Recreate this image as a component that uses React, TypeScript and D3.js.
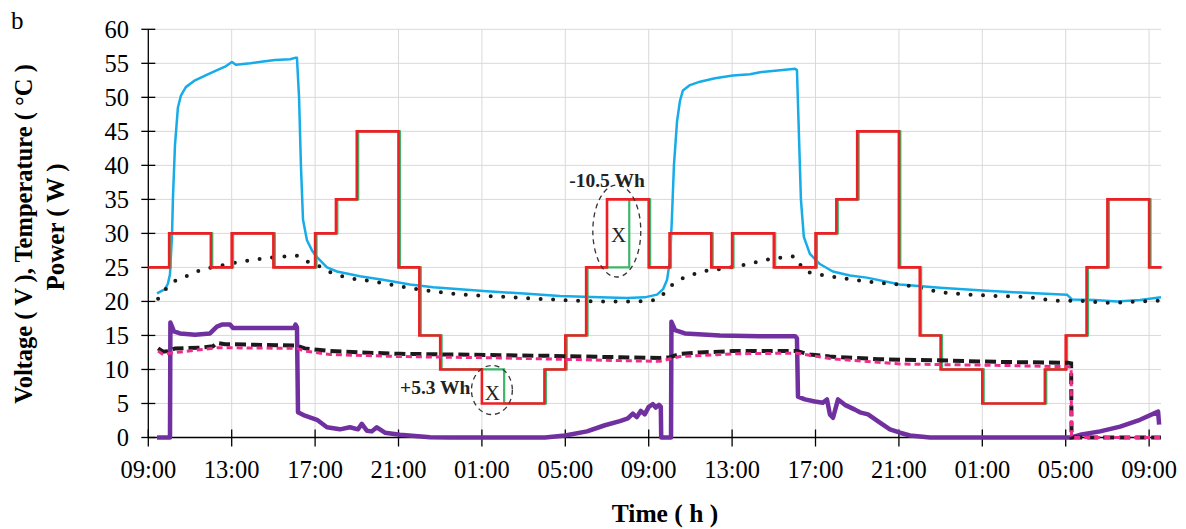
import { useEffect, useRef } from 'react';
import * as d3 from 'd3';

type Pt = [number, number];

// hours since 09:00 on day 1
const xTickHours = [0, 4, 8, 12, 16, 20, 24, 28, 32, 36, 40, 44, 48];
const xTickLabels = ['09:00', '13:00', '17:00', '21:00', '01:00', '05:00', '09:00', '13:00', '17:00', '21:00', '01:00', '05:00', '09:00'];
const yTicks = [0, 5, 10, 15, 20, 25, 30, 35, 40, 45, 50, 55, 60];

// load power setpoint (red) and measured load power (green)
const setTimes = [0, 1, 3, 4, 6, 8, 9, 10, 12, 13, 14, 16, 19, 20, 21, 22, 24, 25, 27, 28, 30, 32, 33, 34, 36, 37, 38, 40, 43, 44, 45, 46, 48, 48.57];
const setValues = [25, 30, 25, 30, 25, 30, 35, 45, 25, 15, 10, 5, 10, 15, 25, 35, 25, 30, 25, 30, 25, 30, 35, 45, 25, 15, 10, 5, 10, 15, 25, 35, 25, 25];
const loadTimes = [0, 1, 3, 4, 6, 8, 9, 10, 12, 13, 14, 17, 19, 20, 21, 23, 24, 25, 27, 28, 30, 32, 33, 34, 36, 37, 38, 40, 43, 44, 45, 46, 48, 48.57];
const loadValues = [25, 30, 25, 30, 25, 30, 35, 45, 25, 15, 10, 5, 10, 15, 25, 35, 25, 30, 25, 30, 25, 30, 35, 45, 25, 15, 10, 5, 10, 15, 25, 35, 25, 25];

// panel temperature (cyan)
const panelTemp: Pt[] = [
  [0.42, 21.2], [0.8, 21.8], [0.94, 22.6], [1.04, 24], [1.14, 30], [1.18, 35], [1.28, 43], [1.42, 48.5],
  [1.57, 50.3], [1.8, 51.5], [2.24, 52.5], [2.8, 53.3], [3.3, 54], [3.68, 54.5], [4.01, 55.2], [4.2, 54.8],
  [4.9, 55], [5.6, 55.3], [6.08, 55.5], [6.8, 55.6], [7.04, 55.8], [7.13, 55.8], [7.23, 50], [7.32, 40],
  [7.42, 32], [7.61, 29], [7.85, 27.5], [8.09, 26.5], [8.57, 25], [9.05, 24.4], [10.15, 23.7], [11.25, 23.2],
  [12.55, 22.5], [13.66, 22.1], [14.95, 21.8], [16.24, 21.5], [17.83, 21.2], [19.74, 20.8], [21.66, 20.6],
  [22.96, 20.5], [23.8, 20.6], [24.4, 21], [24.69, 21.8], [24.88, 23.2], [25.02, 26], [25.11, 32], [25.21, 40],
  [25.36, 46.5], [25.5, 49.5], [25.64, 51], [25.98, 51.8], [26.46, 52.3], [27.18, 52.8], [28.04, 53.2],
  [28.86, 53.4], [29.34, 53.7], [30.06, 53.9], [31.02, 54.2], [31.11, 54], [31.2, 45], [31.3, 35], [31.44, 29.5],
  [31.73, 27], [32.21, 25.5], [32.83, 24.4], [33.65, 23.8], [34.46, 23.5], [36.05, 22.5], [37.97, 22],
  [40.03, 21.6], [41.8, 21.3], [44.06, 21], [44.3, 20.3], [45.4, 20.2], [46.45, 20], [47.56, 20.2], [48.57, 20.6],
];

// ambient temperature (black dotted)
const ambientTemp: Pt[] = [
  [0.47, 20.4], [0.7, 21.3], [1.04, 22.5], [1.67, 23.5], [2.34, 24.4], [3.68, 25.4], [5.02, 26.1], [6.46, 26.6],
  [7.13, 26.7], [7.51, 26], [7.99, 25.5], [8.71, 24.3], [9.43, 23.6], [10.87, 22.9], [12.31, 22.1], [13.85, 21.4],
  [15.19, 21], [16.87, 20.7], [19.27, 20.3], [21.66, 20], [23.1, 20], [23.96, 20.1], [24.39, 20.3], [24.77, 21.3],
  [25.11, 22.4], [25.5, 23.2], [26.07, 23.9], [26.6, 24.4], [27.27, 24.7], [28.62, 25.4], [29.82, 26.2],
  [31.02, 26.6], [31.25, 25.5], [31.49, 24.5], [32.69, 23.7], [34.61, 22.9], [36.67, 22.2], [37.97, 21.4],
  [40.03, 20.9], [42.29, 20.6], [43.73, 20.1], [44.45, 20.1], [46.12, 19.8], [47.56, 20], [48.52, 20.1],
];

// battery voltage (black dashed)
const batteryVoltage: Pt[] = [
  [0.47, 13.1], [0.71, 12.6], [0.95, 12.7], [1.28, 13.1], [2.48, 13.2], [3.1, 13.4], [3.29, 13.9], [3.68, 13.7],
  [4.06, 13.7], [7.13, 13.5], [7.51, 13.1], [8.71, 12.7], [10.15, 12.5], [12.07, 12.3], [14.47, 12.2],
  [16.87, 12.1], [19.27, 12], [22.62, 11.8], [24.54, 11.7], [25.02, 11.8], [25.5, 12.3], [26.46, 12.5],
  [28.04, 12.7], [31.11, 12.7], [31.73, 12.2], [32.69, 11.9], [35.09, 11.5], [38.45, 11.3], [40.85, 11.1],
  [43.73, 11], [44.11, 11], [44.26, 10.9], [44.28, 0], [48.57, 0],
];

// load voltage (pink dashed)
const loadVoltage: Pt[] = [
  [0.47, 12.7], [0.71, 12.2], [1.04, 12.4], [2.48, 12.9], [3.29, 13.2], [7.13, 13.1], [7.51, 12.7], [8.71, 12.2],
  [12.07, 11.9], [16.87, 11.7], [22.62, 11.3], [24.54, 11.2], [25.5, 11.9], [28.04, 12.3], [31.11, 12.4],
  [32.69, 11.6], [36.05, 10.8], [40.85, 10.6], [44.06, 10.4], [44.26, 10.4], [44.28, 0], [48.57, 0],
];

// PV power (purple)
const pvPower: Pt[] = [
  [0.42, 0], [1.04, 0], [1.06, 16.9], [1.23, 15.6], [1.52, 15.3], [2.24, 15.1], [2.96, 15.3], [3.29, 16.3],
  [3.53, 16.6], [3.92, 16.6], [4.06, 16.1], [5.36, 16.1], [6.99, 16.1], [7.06, 16.6], [7.13, 16.2], [7.18, 3.7],
  [7.51, 3.2], [8.09, 2.6], [8.57, 1.5], [9.19, 1.2], [9.67, 1.5], [10.06, 1.2], [10.24, 2], [10.48, 1],
  [10.72, 0.9], [10.96, 1.5], [11.35, 0.7], [12.07, 0.4], [13.51, 0.05], [14.47, 0], [19.03, 0], [19.99, 0.3],
  [21.04, 0.9], [21.9, 1.8], [22.62, 2.4], [23, 2.8], [23.24, 3.5], [23.43, 3], [23.62, 3.9], [23.81, 3.4],
  [24, 4.5], [24.2, 4.9], [24.34, 4.4], [24.49, 4.8], [24.58, 4.5], [24.6, 0], [25.07, 0], [25.09, 17],
  [25.26, 15.8], [25.74, 15.3], [27.42, 15], [29.34, 14.9], [31.02, 14.9], [31.11, 14.6], [31.16, 6],
  [31.49, 5.6], [31.97, 5.3], [32.35, 5.1], [32.55, 5.6], [32.69, 3.4], [32.84, 2.9], [33.08, 5.6],
  [33.41, 4.8], [33.89, 4.1], [34.13, 3.7], [34.52, 3.4], [35.09, 2.2], [35.57, 1.2], [36.05, 0.7],
  [36.53, 0.3], [37.49, 0], [44.26, 0], [44.69, 0.4], [45.65, 0.9], [46.61, 1.6], [47.56, 2.6], [48.43, 3.8],
  [48.48, 1.9],
];

// energy-difference annotations
const notes = [
  { label: '+5.3 Wh', t: 15.45, v: 7.3, anchor: 'end', cx: 16.48, cy: 6.98, rx: 0.98, ry: 3.6, xt: 16.5, xv: 6.6 },
  { label: '-10.5 Wh', t: 22.0, v: 37.8, anchor: 'middle', cx: 22.47, cy: 30.35, rx: 1.15, ry: 6.76, xt: 22.55, xv: 29.8 },
];

const FONT = '"Liberation Serif", "Times New Roman", serif';

export default function App() {
  const svgRef = useRef<SVGSVGElement>(null);

  useEffect(() => {
    if (!svgRef.current) return;
    const width = 1186;
    const height = 529;

    const svg = d3.select(svgRef.current);
    svg.selectAll('*').remove();
    svg.attr('width', width).attr('height', height);

    const x = d3.scaleLinear().domain([0, 48.57]).range([148.3, 1161]);
    const y = d3.scaleLinear().domain([0, 60]).range([437.5, 29.3]);
    const [x0, x1] = x.range();

    // grid
    svg.append('g')
      .selectAll('line')
      .data(yTicks.slice(1))
      .join('line')
      .attr('x1', x0).attr('x2', x1)
      .attr('y1', (d) => y(d)).attr('y2', (d) => y(d))
      .attr('stroke', '#d9d9d9').attr('stroke-width', 1);
    svg.append('g')
      .selectAll('line')
      .data(xTickHours.slice(1))
      .join('line')
      .attr('x1', (d) => x(d)).attr('x2', (d) => x(d))
      .attr('y1', y(0)).attr('y2', y(60))
      .attr('stroke', '#d9d9d9').attr('stroke-width', 1);

    // axes
    svg.append('line').attr('x1', x0).attr('x2', x1).attr('y1', y(0)).attr('y2', y(0)).attr('stroke', '#000').attr('stroke-width', 1.3);
    svg.append('line').attr('x1', x0).attr('x2', x0).attr('y1', y(0)).attr('y2', y(60)).attr('stroke', '#000').attr('stroke-width', 1.3);

    svg.append('g')
      .selectAll('line')
      .data(yTicks)
      .join('line')
      .attr('x1', x0 - 7).attr('x2', x0 + 7)
      .attr('y1', (d) => y(d)).attr('y2', (d) => y(d))
      .attr('stroke', '#000').attr('stroke-width', 1.3);
    svg.append('g')
      .selectAll('text')
      .data(yTicks)
      .join('text')
      .attr('x', 129)
      .attr('y', (d) => y(d))
      .attr('dy', '0.34em')
      .attr('text-anchor', 'end')
      .style('font-family', FONT)
      .style('font-size', '24.5px')
      .text((d) => d);

    svg.append('g')
      .selectAll('line')
      .data(xTickHours)
      .join('line')
      .attr('x1', (d) => x(d)).attr('x2', (d) => x(d))
      .attr('y1', y(0) - 8).attr('y2', y(0) + 9)
      .attr('stroke', '#000').attr('stroke-width', 1.3);
    svg.append('g')
      .selectAll('text')
      .data(xTickHours)
      .join('text')
      .attr('x', (d) => x(d))
      .attr('y', 478)
      .attr('text-anchor', 'middle')
      .style('font-family', FONT)
      .style('font-size', '24.5px')
      .text((d, i) => xTickLabels[i]);

    // axis titles
    svg.append('text')
      .attr('transform', `translate(32,234) rotate(-90)`)
      .attr('text-anchor', 'middle')
      .style('font-family', FONT)
      .style('font-size', '24.5px')
      .style('font-weight', 'bold')
      .text('Voltage ( V ), Temperature ( °C )');
    svg.append('text')
      .attr('transform', `translate(64,227) rotate(-90)`)
      .attr('text-anchor', 'middle')
      .style('font-family', FONT)
      .style('font-size', '25px')
      .style('font-weight', 'bold')
      .text('Power ( W )');
    svg.append('text')
      .attr('x', 665)
      .attr('y', 522)
      .attr('text-anchor', 'middle')
      .style('font-family', FONT)
      .style('font-size', '25.5px')
      .style('font-weight', 'bold')
      .text('Time ( h )');
    svg.append('text')
      .attr('x', 11)
      .attr('y', 29)
      .style('font-family', FONT)
      .style('font-size', '25px')
      .text('b');

    const line = d3.line<Pt>().x((d) => x(d[0])).y((d) => y(d[1]));
    const step = d3.line<Pt>().x((d) => x(d[0])).y((d) => y(d[1])).curve(d3.curveStepAfter);
    const zip = (ts: number[], vs: number[]): Pt[] => ts.map((t, i) => [t, vs[i]]);

    // series
    svg.append('path').datum(pvPower).attr('d', line)
      .attr('fill', 'none').attr('stroke', '#7030A0').attr('stroke-width', 4.5).attr('stroke-linejoin', 'round');

    svg.append('path').datum(panelTemp).attr('d', line)
      .attr('fill', 'none').attr('stroke', '#17ACE8').attr('stroke-width', 2.5).attr('stroke-linejoin', 'round');

    svg.append('path').datum(ambientTemp).attr('d', d3.line<Pt>().x((d) => x(d[0])).y((d) => y(d[1])).curve(d3.curveMonotoneX))
      .attr('fill', 'none').attr('stroke', '#1a1a1a').attr('stroke-width', 4)
      .attr('stroke-linecap', 'round').attr('stroke-dasharray', '0 12.5');

    svg.append('path').datum(zip(loadTimes, loadValues)).attr('d', step)
      .attr('transform', 'translate(1.4,0)')
      .attr('fill', 'none').attr('stroke', '#3DB56A').attr('stroke-width', 2.2);

    svg.append('path').datum(zip(setTimes, setValues)).attr('d', step)
      .attr('fill', 'none').attr('stroke', '#EE1F24').attr('stroke-width', 2.6);

    svg.append('path').datum(batteryVoltage).attr('d', line)
      .attr('fill', 'none').attr('stroke', '#1a1a1a').attr('stroke-width', 4)
      .attr('stroke-dasharray', '11 5');

    svg.append('path').datum(loadVoltage).attr('d', line)
      .attr('fill', 'none').attr('stroke', '#EC2F8C').attr('stroke-width', 3)
      .attr('stroke-dasharray', '6 4');

    // annotations
    notes.forEach((n) => {
      svg.append('ellipse')
        .attr('cx', x(n.cx)).attr('cy', y(n.cy))
        .attr('rx', x(n.rx) - x(0)).attr('ry', y(0) - y(n.ry))
        .attr('fill', 'none').attr('stroke', '#333').attr('stroke-width', 1.3)
        .attr('stroke-dasharray', '5 4');
      svg.append('text')
        .attr('x', x(n.xt)).attr('y', y(n.xv))
        .attr('dy', '0.34em')
        .attr('text-anchor', 'middle')
        .style('font-family', FONT)
        .style('font-size', '21px')
        .attr('fill', '#222')
        .text('X');
      svg.append('text')
        .attr('x', x(n.t)).attr('y', y(n.v))
        .attr('dy', '0.34em')
        .attr('text-anchor', n.anchor)
        .style('font-family', FONT)
        .style('font-size', '19.5px')
        .style('font-weight', 'bold')
        .attr('fill', '#222')
        .text(n.label);
    });
  }, []);

  return (
    <svg
      ref={svgRef}
      style={{ position: 'absolute', left: 0, top: 0, background: '#fff' }}
    />
  );
}
